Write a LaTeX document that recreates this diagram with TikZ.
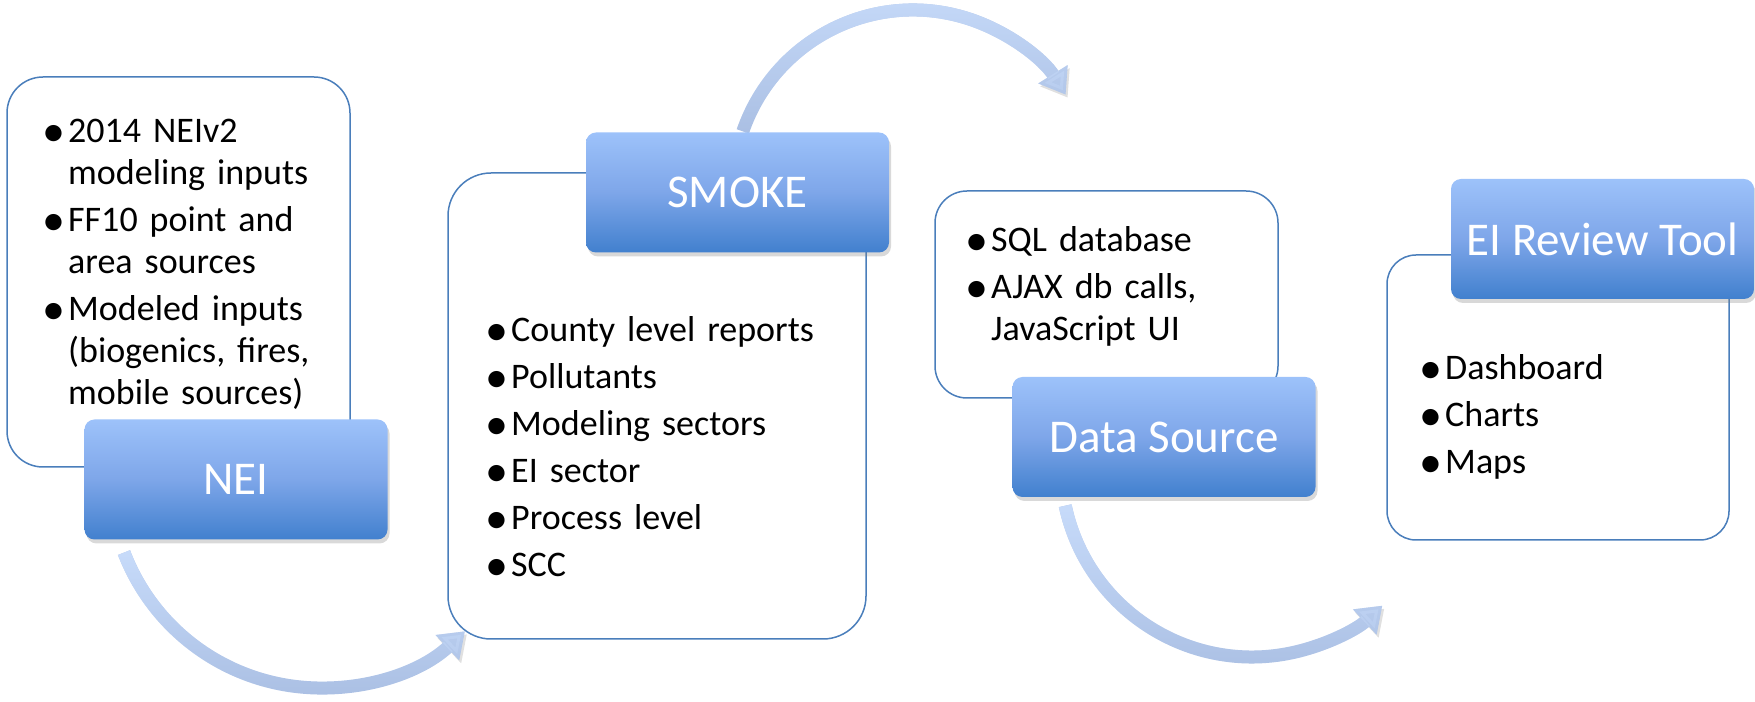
\documentclass[tikz,border=0pt]{standalone}
\usepackage{fontspec}
\setmainfont{Carlito}
\usetikzlibrary{shadows,arrows.meta,fadings}
\definecolor{boxblue}{RGB}{74,126,187}
\definecolor{hdrtop}{RGB}{157,194,250}
\definecolor{hdrmid}{RGB}{126,166,233}
\definecolor{hdrbot}{RGB}{65,128,206}
\definecolor{flechatop}{RGB}{200,220,251}
\definecolor{flechabot}{RGB}{170,191,227}
\newcommand{\bul}[1]{\hangindent=22pt\hangafter=1\noindent\makebox[22pt][l]{\hspace{-3.5pt}\raisebox{-4pt}{\fontsize{46}{42}\selectfont\textbullet}}#1\par\vspace{5pt}}
\tikzstyle{panel} = [draw=boxblue, line width=1.5pt, fill=white, rectangle, inner sep=0pt]
\tikzstyle{heading} = [rectangle, rounded corners=10pt, minimum width=303pt, minimum height=120pt, inner sep=2pt, top color=hdrtop, bottom color=hdrbot, middle color=hdrmid, text=white, font=\fontsize{47}{56}\selectfont, drop shadow={opacity=0.3, shadow xshift=2pt, shadow yshift=-4pt}]
\tikzstyle{bullets} = [anchor=base west, inner sep=0pt, text width=340pt, align=left, font=\fontsize{36}{42}\selectfont]
\tikzstyle{flow} = [line width=13pt, draw=flechabot, -{Triangle[length=24pt, width=33pt]},
	preaction={draw=black, opacity=0.12, transform canvas={xshift=2pt, yshift=-3pt}},
	postaction={draw=flechatop, path fading=south}]

\begin{document}
\begin{tikzpicture}[x=1pt,y=1pt]
		\useasboundingbox (0,0) rectangle (1755,701);
		% cajas
		\node[panel, rounded corners=36pt, minimum width=343pt, minimum height=390pt] (nei) at (178.5,429) {};
		\node[panel, rounded corners=43pt, minimum width=418pt, minimum height=466pt] (smoke) at (657,295) {};
		\node[panel, rounded corners=32pt, minimum width=343pt, minimum height=207pt] (data) at (1106.5,406.5) {};
		\node[panel, rounded corners=29pt, minimum width=342pt, minimum height=285pt] (ei) at (1558,303.5) {};

		\node[bullets] (neitxt) at (46,558) {\bul{2014 NEIv2\newline modeling inputs}\bul{FF10 point and\newline area sources}\bul{Modeled inputs\newline (biogenics, fires,\newline mobile sources)}};
		\node[bullets] (smoketxt) at (489,359) {\bul{County level reports}\bul{Pollutants}\bul{Modeling sectors}\bul{EI sector}\bul{Process level}\bul{SCC}};
		\node[bullets] (datatxt) at (969,449) {\bul{SQL database}\bul{AJAX db calls,\newline JavaScript UI}};
		\node[bullets] (eitxt) at (1423,321) {\bul{Dashboard}\bul{Charts}\bul{Maps}};

		% flechas
		\coordinate (a1) at (124,148.4);
		\coordinate (a2) at (742.8,569.6);
		\coordinate (a3) at (1065.2,195.3);
		\draw[flow] (a1) arc[start angle=201, end angle=313, radius=211];
		\draw[flow] (a2) arc[start angle=161, end angle=32, radius=180];
		\draw[flow] (a3) arc[start angle=192, end angle=313, radius=191];

		% titulos
		\node[heading] (neihdr) at (236,221.5) {NEI};
		\node[heading] (smokehdr) at (737.5,508.5) {SMOKE};
		\node[heading] (datahdr) at (1164,264) {Data Source};
		\node[heading] (eihdr) at (1602.5,462) {EI Review Tool};
	\end{tikzpicture}
\end{document}
